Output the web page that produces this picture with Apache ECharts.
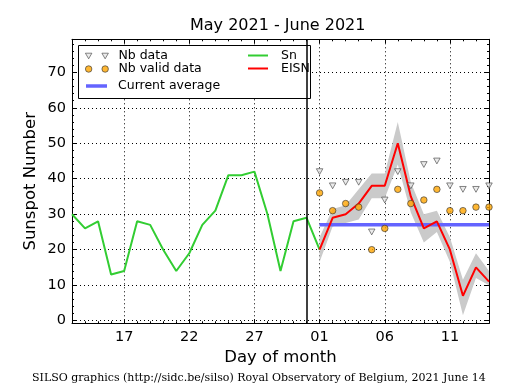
<!DOCTYPE html>
<html>
<head>
<meta charset="utf-8">
<script src="https://cdn.jsdelivr.net/npm/echarts@6/dist/echarts.min.js"></script>
<style>html,body{margin:0;padding:0;background:#fff}#c{width:515px;height:390px}</style>
</head>
<body>
<div id="c"></div>
<script>
// ---- data ----
const days = ['13','14','15','16','17','18','19','20','21','22','23','24','25','26','27','28','29','30','31',
              '01','02','03','04','05','06','07','08','09','10','11','12','13','14'];
// Sn: May 13 .. June 1
const snValues = [30,26,28,13,14,28,27,20,14,19,27,31,41,41,42,30,14,28,29,20];
// June 1 .. June 14
const eisnValues  = [20,29,30,33,38,38,50,35,26,28,20,7,15,11];
const bandLow     = [16.5,26.5,27.5,28.5,34.5,34.5,44,30.5,22,25,16.5,1.5,12,10];
const bandHigh    = [23.5,31.5,32.5,37,41.5,41.5,56,39,30,31,23.5,11.5,19,14];
const nbData      = [42,38,39,39,25,34,42,38,44,45,38,37,37,38];
const nbValidData = [36,31,33,32,20,26,37,33,34,37,31,31,32,32];
const currentAverage = 27;
const separatorDay = '31';

// ---- layout ----
const Y_MIN = -0.75, Y_MAX = 79.3;          // data y range
const MAJOR_TOP = 70, MINOR_TOP = 78;        // last major / minor tick
const FL = 72, FT = 39.3, FW = 417, FH = 284; // plot frame
const pxPer = FH / (Y_MAX - Y_MIN);
const yPix = (v) => FT + (Y_MAX - v) * pxPer;

// ---- helpers ----
const juneStart = days.indexOf('01');
function padJune(arr){ return new Array(juneStart).fill(null).concat(arr); }
function padSn(arr){ return arr.concat(new Array(days.length - arr.length).fill(null)); }
const bandDiff = bandHigh.map((v,i)=> +(v - bandLow[i]).toFixed(2));
const avgArr = eisnValues.map(()=>currentAverage);
const majorFn = (idx)=> (idx - 4) % 5 === 0;

const FONT = 'DejaVu Sans';
const black = '#000';
const axisLabelStyle = {fontFamily: FONT, fontSize: 14.5, color: black};

function legendCfg(name, left, top, w, h, icon, pad, itemStyle){
  return {
    data: [{name: name, icon: icon}],
    left: left, top: top, padding: 0,
    itemWidth: w, itemHeight: h,
    selectedMode: false,
    itemStyle: itemStyle || {},
    textStyle: {fontFamily: FONT, fontSize: 12.5, color: black, padding: [0,0,0,pad]}
  };
}

const triPath = 'path://M0,0 L6.5,0 L3.25,5.6 Z M16.5,0 L23,0 L19.75,5.6 Z';
const circPath = 'path://M0,3.25 A3.25,3.25 0 1,0 6.5,3.25 A3.25,3.25 0 1,0 0,3.25 Z M16.5,3.25 A3.25,3.25 0 1,0 23,3.25 A3.25,3.25 0 1,0 16.5,3.25 Z';

const hiddenX = (gi) => ({type: 'value', gridIndex: gi, show: false, min: 0, max: 1});

const chart = echarts.init(document.getElementById('c'), null, {renderer: 'canvas'});
chart.setOption({
  animation: false,
  backgroundColor: '#fff',
  title: [
    {text: 'May 2021 - June 2021', left: 190, top: 18, padding: 0,
     textStyle: {fontFamily: FONT, fontSize: 16, fontWeight: 'normal', color: black}},
    {text: 'SILSO graphics (http://sidc.be/silso) Royal Observatory of Belgium, 2021 June 14',
     left: 32, top: 373, padding: 0,
     textStyle: {fontFamily: 'DejaVu Serif', fontSize: 11, fontWeight: 'normal', color: black}}
  ],
  grid: [
    {left: FL, top: FT, width: FW, height: FH},
    {left: FL, top: yPix(MAJOR_TOP), width: FW, height: yPix(0) - yPix(MAJOR_TOP)},
    {left: FL, top: yPix(MINOR_TOP), width: FW, height: yPix(0) - yPix(MINOR_TOP)}
  ],
  legend: [
    legendCfg('Nb data', 85, 49.5, 23, 5.6, triPath, 5, {borderColor: '#444', borderWidth: 0.8, color: '#e6e6e6'}),
    legendCfg('Nb valid data', 85, 62.5, 23, 6.5, circPath, 5, {borderColor: '#333', borderWidth: 0.8, color: '#ffa500'}),
    legendCfg('Current average', 86, 79.5, 21, 3.5, 'rect', 6, {color: '#6464ff'}),
    legendCfg('Sn', 248, 49, 20, 2, 'rect', 8, {color: '#32cd32'}),
    legendCfg('EISN', 248, 62, 20, 2, 'rect', 8, {color: '#ff0000'})
  ],
  graphic: [
    {type: 'rect', z: 3, shape: {x: 78.5, y: 45.5, width: 232, height: 53},
     style: {fill: '#fff', stroke: black, lineWidth: 1}}
  ],
  xAxis: [
    {type: 'category', gridIndex: 0, data: days, boundaryGap: false, position: 'bottom',
     axisLine: {show: true, onZero: false, lineStyle: {color: black, width: 1}},
     axisTick: {show: true, inside: true, length: 4, interval: majorFn, lineStyle: {color: black}},
     axisLabel: Object.assign({interval: majorFn, margin: 6}, axisLabelStyle),
     splitLine: {show: true, interval: majorFn, lineStyle: {color: black, type: [1,3], width: 1}},
     name: 'Day of month', nameLocation: 'middle', nameGap: 24,
     nameTextStyle: {fontFamily: FONT, fontSize: 16.5, color: black}},
    {type: 'category', gridIndex: 0, data: days, boundaryGap: false, position: 'bottom',
     axisLine: {show: false, onZero: false},
     axisTick: {show: true, inside: true, length: 2, interval: 0, lineStyle: {color: black}},
     axisLabel: {show: false}, splitLine: {show: false}},
    {type: 'category', gridIndex: 0, data: days, boundaryGap: false, position: 'top',
     axisLine: {show: true, onZero: false, lineStyle: {color: black, width: 1}},
     axisTick: {show: true, inside: true, length: 4, interval: majorFn, lineStyle: {color: black}},
     axisLabel: {show: false}, splitLine: {show: false}},
    {type: 'category', gridIndex: 0, data: days, boundaryGap: false, position: 'top',
     axisLine: {show: false, onZero: false},
     axisTick: {show: true, inside: true, length: 2, interval: 0, lineStyle: {color: black}},
     axisLabel: {show: false}, splitLine: {show: false}},
    hiddenX(1),
    hiddenX(2)
  ],
  yAxis: [
    // data axis (frame only)
    {type: 'value', gridIndex: 0, min: Y_MIN, max: Y_MAX, position: 'left',
     axisLine: {show: true, onZero: false, lineStyle: {color: black, width: 1}},
     axisTick: {show: false}, axisLabel: {show: false}, splitLine: {show: false},
     name: 'Sunspot Number', nameLocation: 'middle', nameGap: 33,
     nameTextStyle: {fontFamily: FONT, fontSize: 16.5, color: black}},
    {type: 'value', gridIndex: 0, min: Y_MIN, max: Y_MAX, position: 'right',
     axisLine: {show: true, onZero: false, lineStyle: {color: black, width: 1}},
     axisTick: {show: false}, axisLabel: {show: false}, splitLine: {show: false}},
    // major ticks, labels, grid lines
    {type: 'value', gridIndex: 1, min: 0, max: MAJOR_TOP, interval: 10, position: 'left',
     axisLine: {show: false, onZero: false},
     axisTick: {show: true, inside: true, length: 4, lineStyle: {color: black}},
     axisLabel: Object.assign({margin: 6}, axisLabelStyle),
     splitLine: {show: true, lineStyle: {color: black, type: [1,3], width: 1}}},
    {type: 'value', gridIndex: 1, min: 0, max: MAJOR_TOP, interval: 10, position: 'right',
     axisLine: {show: false, onZero: false},
     axisTick: {show: true, inside: true, length: 4, lineStyle: {color: black}},
     axisLabel: {show: false}, splitLine: {show: false}},
    // minor ticks
    {type: 'value', gridIndex: 2, min: 0, max: MINOR_TOP, interval: 2, position: 'left',
     axisLine: {show: false, onZero: false},
     axisTick: {show: true, inside: true, length: 2, lineStyle: {color: black}},
     axisLabel: {show: false}, splitLine: {show: false}},
    {type: 'value', gridIndex: 2, min: 0, max: MINOR_TOP, interval: 2, position: 'right',
     axisLine: {show: false, onZero: false},
     axisTick: {show: true, inside: true, length: 2, lineStyle: {color: black}},
     axisLabel: {show: false}, splitLine: {show: false}}
  ],
  series: [
    {name: 'bandLow', type: 'line', stack: 'band', data: padJune(bandLow), symbol: 'none',
     lineStyle: {opacity: 0}, z: 1, silent: true},
    {name: 'bandRange', type: 'line', stack: 'band', data: padJune(bandDiff), symbol: 'none',
     lineStyle: {opacity: 0}, areaStyle: {color: '#cacaca', opacity: 1}, z: 1, silent: true},
    {name: 'Sn', type: 'line', data: padSn(snValues), symbol: 'none', color: '#32cd32',
     lineStyle: {color: '#32cd32', width: 2}, z: 2,
     markLine: {silent: true, symbol: 'none', label: {show: false},
       lineStyle: {color: black, type: 'solid', width: 1.5},
       data: [{xAxis: separatorDay}]}},
    {name: 'Current average', type: 'line', data: padJune(avgArr), symbol: 'none', color: '#6464ff',
     lineStyle: {color: '#6464ff', width: 3.5}, z: 3},
    {name: 'EISN', type: 'line', data: padJune(eisnValues), symbol: 'none', color: '#ff0000',
     lineStyle: {color: '#ff0000', width: 2}, z: 4},
    {name: 'Nb data', type: 'scatter', data: padJune(nbData), symbol: 'path://M0,0 L10,0 L5,9 Z',
     symbolSize: [6.5, 5.8], itemStyle: {color: '#e6e6e6', borderColor: '#444', borderWidth: 0.8}, z: 5},
    {name: 'Nb valid data', type: 'scatter', data: padJune(nbValidData), symbol: 'circle',
     symbolSize: 6.5, itemStyle: {color: '#ffa500', borderColor: '#333', borderWidth: 0.8}, z: 5}
  ]
});
</script>
</body>
</html>
